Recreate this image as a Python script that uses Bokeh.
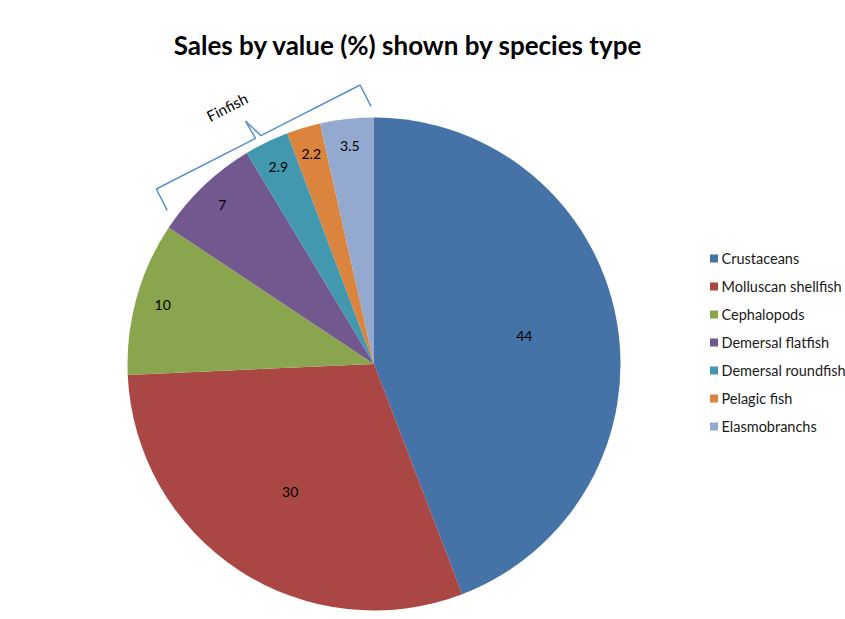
import numpy as np
from bokeh.plotting import figure
from bokeh.models import Range1d, ColumnDataSource
from bokeh.core.properties import value
from bokeh.embed import file_html
from bokeh.resources import INLINE

# ---- data ----
categories = ["Crustaceans", "Molluscan shellfish", "Cephalopods", "Demersal flatfish",
              "Demersal roundfish", "Pelagic fish", "Elasmobranchs"]
values = [44, 30, 10, 7, 2.9, 2.2, 3.5]
colors = ["#4572A7", "#AA4643", "#89A54E", "#71588F", "#4198AF", "#DB843D", "#93A9CF"]
finfish = ["Demersal flatfish", "Demersal roundfish", "Pelagic fish", "Elasmobranchs"]
title_text = "Sales by value (%) shown by species type"
group_label = "Finfish"

W, H = 845, 619
FONT = "Lato"

def Y(ypx):
    return H - ypx

p = figure(width=W, height=H, output_backend="svg", toolbar_location=None,
           x_range=Range1d(0, W), y_range=Range1d(0, H),
           x_axis_location=None, y_axis_location=None, min_border=0)
p.outline_line_color = None
p.grid.visible = False
p.background_fill_color = "white"
p.border_fill_color = "white"

cx, cy, r = 373.5, Y(363.5), 246.5

vals = np.array(values, dtype=float)
tot = vals.sum()
cum = np.concatenate([[0], np.cumsum(vals)]) / tot
theta0 = 2 * np.pi * cum[:-1]   # clockwise from top
theta1 = 2 * np.pi * cum[1:]
start = np.pi / 2 - theta1
end = np.pi / 2 - theta0

src = ColumnDataSource(dict(start=start, end=end, color=colors, cat=categories))
p.wedge(x=cx, y=cy, radius=r, start_angle="start", end_angle="end",
        direction="anticlock", fill_color="color", line_color=None, source=src)

# data labels
mid = (theta0 + theta1) / 2
frac = np.where(vals > 20, 0.62, 0.89)
lx = cx + r * frac * np.sin(mid)
ly = cy + r * frac * np.cos(mid)
p.text(x=lx, y=ly, text=[("%g" % v) for v in values], text_align="center",
       text_baseline="middle", text_font=value(FONT), text_font_size="14px",
       text_color="#000000")

# Finfish bracket
i0 = categories.index(finfish[0])
i1 = categories.index(finfish[-1])
a0 = theta0[i0] + np.radians(3)
a1 = theta1[i1]
rr = r * 1.045
P0 = np.array([cx + rr * np.sin(a0), cy + rr * np.cos(a0)])
P1 = np.array([cx + rr * np.sin(a1) - 3, cy + rr * np.cos(a1)])
d = P1 - P0
d = d / np.linalg.norm(d)
n = np.array([-d[1], d[0]])
if np.dot(n, (P0 + P1) / 2 - np.array([cx, cy])) < 0:
    n = -n
M = (P0 + P1) / 2
C0 = P0 + 24 * n
C1 = P1 + 24 * n
Ma = M + 24 * n - 3 * d
Mb = M + 24 * n + 3 * d
T = M + 44 * n - 4 * d
bx = [P0[0], C0[0], Ma[0], T[0], Mb[0], C1[0], P1[0]]
by = [P0[1], C0[1], Ma[1], T[1], Mb[1], C1[1], P1[1]]
p.line(bx, by, line_color="#5B8FCB", line_width=1.5)
ang = np.arctan2(d[1], d[0])
TL = M + 65 * n - 14 * d
p.text(x=[TL[0]], y=[TL[1]], text=[group_label], angle=ang, text_align="center",
       text_baseline="middle", text_font=value(FONT), text_font_size="15px",
       text_color="#000000")

# title
p.text(x=[408], y=[Y(44)], text=[title_text], text_align="center", text_baseline="middle",
       text_font=value(FONT), text_font_size="26px", text_font_style="bold",
       text_color="#000000")

# legend (manual)
k = np.arange(len(categories))
leg_y = Y(258) - 28 * k
p.rect(x=[713.5] * len(categories), y=leg_y, width=8, height=8, fill_color=colors,
       line_color=None)
p.text(x=[721] * len(categories), y=leg_y, text=categories, text_align="left",
       text_baseline="middle", text_font=value(FONT), text_font_size="14.5px",
       text_color="#1a1a1a")

open("out.html", "w").write(file_html(p, INLINE))
